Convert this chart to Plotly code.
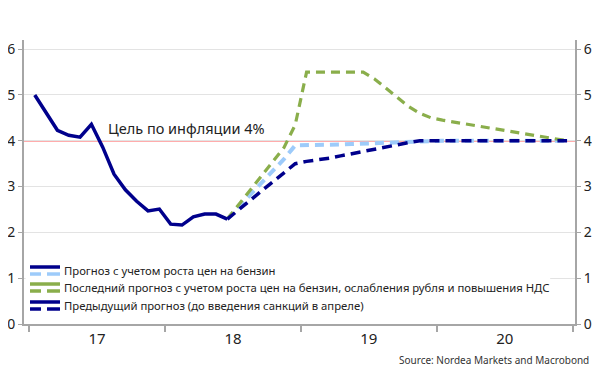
import plotly.graph_objects as go

# ---- data ----
months = list(range(48))  # Jan 2017 .. Dec 2020 (month index)
actual_m = list(range(18))
actual = [5.0, 4.62, 4.23, 4.12, 4.08, 4.36, 3.86, 3.27, 2.93, 2.68, 2.47, 2.51,
          2.18, 2.16, 2.34, 2.40, 2.40, 2.29]
fc_m = list(range(17, 48))
fc_fuel = [2.29, 2.55, 2.80, 3.05, 3.32, 3.60, 3.90, 3.90, 3.90, 3.91, 3.92, 3.93,
           3.94, 3.95, 3.96, 3.97, 3.98, 4.0, 4.0, 4.0, 4.0, 4.0, 4.0, 4.0, 4.0, 4.0,
           4.0, 4.0, 4.0, 4.0, 4.0]
fc_latest = [2.29, 2.60, 2.92, 3.22, 3.52, 3.85, 4.35, 5.5, 5.5, 5.5, 5.5, 5.5,
             5.5, 5.35, 5.15, 4.95, 4.75, 4.6, 4.5, 4.45, 4.41, 4.37, 4.33, 4.29,
             4.25, 4.2, 4.16, 4.12, 4.08, 4.04, 4.0]
fc_prev = [2.29, 2.50, 2.70, 2.90, 3.10, 3.30, 3.50, 3.55, 3.58, 3.62, 3.67, 3.72,
           3.77, 3.82, 3.87, 3.92, 3.96, 4.0, 4.0, 4.0, 4.0, 4.0, 4.0, 4.0, 4.0, 4.0,
           4.0, 4.0, 4.0, 4.0, 4.0]
TARGET = 4
year_tick_marks = [-0.5, 11.5, 23.5, 35.5, 47.5]   # year boundaries
year_label_pos = [5.5, 17.5, 29.5, 41.5]          # mid-year
year_labels = ["17", "18", "19", "20"]
y_ticks = [0, 1, 2, 3, 4, 5, 6]
legend_names = ["Прогноз с учетом роста цен на бензин",
                "Последний прогноз с учетом роста цен на бензин, ослабления рубля и повышения НДС",
                "Предыдущий прогноз (до введения санкций в апреле)"]

NAVY = "#00008C"
LIGHT = "#9DCBFA"
GREEN = "#8AAE4B"
AXIS = "#A6A6A6"
FONT = "Noto Sans"

fig = go.Figure()
fig.add_hline(y=TARGET, line=dict(color="#FF5A5A", width=1.5), layer="below")

fig.add_trace(go.Scatter(x=fc_m, y=fc_fuel, mode="lines",
                         line=dict(color=LIGHT, width=4, dash="9px,6px"), showlegend=False))
fig.add_trace(go.Scatter(x=fc_m, y=fc_latest, mode="lines",
                         line=dict(color=GREEN, width=3.2, dash="9px,6px"), showlegend=False))
fig.add_trace(go.Scatter(x=fc_m, y=fc_prev, mode="lines",
                         line=dict(color=NAVY, width=3.5, dash="10px,6px"), showlegend=False))
fig.add_trace(go.Scatter(x=actual_m, y=actual, mode="lines",
                         line=dict(color=NAVY, width=3.5), showlegend=False))
# right axis carrier (invisible)
fig.add_trace(go.Scatter(x=[months[0]], y=[TARGET], yaxis="y2", mode="markers",
                         marker=dict(opacity=0), hoverinfo="skip", showlegend=False))

fig.update_layout(
    width=592, height=370,
    margin=dict(l=16, r=25, t=32, b=54),
    plot_bgcolor="white", paper_bgcolor="white",
    font=dict(family=FONT, color="#222222"),
    xaxis=dict(range=[-0.95, 47.7], showgrid=False, zeroline=False, automargin=False,
               showline=True, linecolor=AXIS, linewidth=2,
               tickmode="array", tickvals=year_label_pos, ticktext=year_labels,
               ticks="", tickfont=dict(size=15),
               minor=dict(tickmode="array", tickvals=year_tick_marks, ticks="outside",
                          ticklen=6, tickcolor=AXIS, tickwidth=1.5, showgrid=False)),
    yaxis=dict(range=[0, 6.2], tickvals=y_ticks, showgrid=True, gridcolor="#E3E3E3",
               gridwidth=1, zeroline=False, showline=True, linecolor=AXIS,
               linewidth=2, ticks="outside", ticklen=4, tickcolor=AXIS,
               tickfont=dict(size=14), automargin=False),
    yaxis2=dict(range=[0, 6.2], tickvals=y_ticks, overlaying="y", side="right",
                showgrid=False, zeroline=False, showline=True, linecolor=AXIS,
                linewidth=2, ticks="outside", ticklen=4, tickcolor=AXIS,
                tickfont=dict(size=14), automargin=False),
)

fig.add_annotation(x=13.36, y=4.28, xref="x", yref="y", text="Цель по инфляции 4%",
                   showarrow=False, font=dict(size=14.5, color="#222222"))

# custom legend
fig.add_shape(type="rect", xref="paper", yref="paper", x0=0.003, x1=0.955, y0=0.04, y1=0.215,
              fillcolor="white", line=dict(width=0), layer="above")
sym = [(NAVY, LIGHT, 0.2007, 0.176, 0.188),
       (GREEN, GREEN, 0.1408, 0.1162, 0.1285),
       (NAVY, NAVY, 0.0775, 0.0528, 0.065)]
for (c_top, c_dash, ys, yd, yt), name in zip(sym, legend_names):
    fig.add_shape(type="line", xref="paper", yref="paper", x0=0.0109, x1=0.0653, y0=ys, y1=ys,
                  line=dict(color=c_top, width=3.5), layer="above")
    for a, b in [(0.0109, 0.0309), (0.0417, 0.0653)]:
        fig.add_shape(type="line", xref="paper", yref="paper", x0=a, x1=b, y0=yd, y1=yd,
                      line=dict(color=c_dash, width=3.5), layer="above")
    fig.add_annotation(x=0.069, y=yt, xref="paper", yref="paper", text=name,
                       xanchor="left", yanchor="middle", showarrow=False,
                       font=dict(size=11.3, color="#222222"))

fig.add_annotation(x=1.029, y=-0.127, xref="paper", yref="paper",
                   text="Source: Nordea Markets and Macrobond", xanchor="right",
                   yanchor="middle", showarrow=False, font=dict(size=10, color="#333333"))

fig.write_html("out.html")
